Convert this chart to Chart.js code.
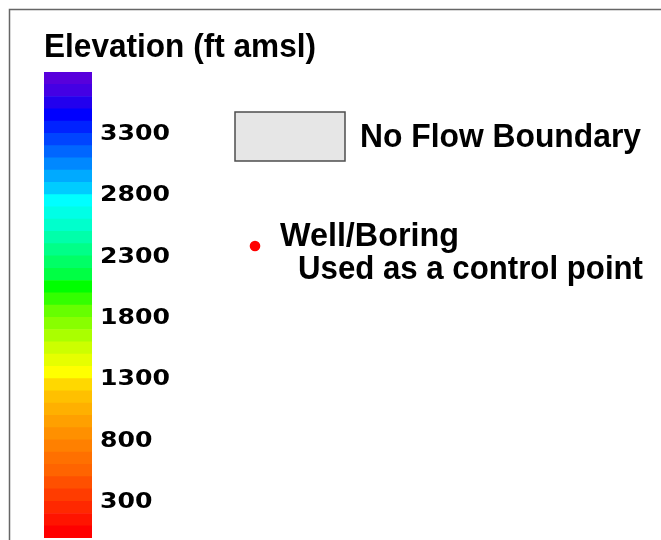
<!DOCTYPE html>
<html>
<head>
<meta charset="utf-8">
<script src="https://cdn.jsdelivr.net/npm/chart.js@4"></script>
<style>
  html, body { margin: 0; padding: 0; background: #fff; }
  #wrap { width: 661px; height: 540px; }
</style>
</head>
<body>
<div id="wrap"><canvas id="chart" width="661" height="540"></canvas></div>
<script>
const titleText = 'Elevation (ft amsl)';
const boundaryLabel = 'No Flow Boundary';
const wellLabel = ['Well/Boring', 'Used as a control point'];

// colour bands, bottom to top (ft amsl)
const bandEdges = [0, 100, 200, 300, 400, 500, 600, 700, 800, 900, 1000, 1100, 1200, 1300,
  1400, 1500, 1600, 1700, 1800, 1900, 2000, 2100, 2200, 2300, 2400, 2500, 2600, 2700,
  2800, 2900, 3000, 3100, 3200, 3300, 3400, 3500, 3600, 3700, 3800];
const bandColors = ['#ff0000', '#ff1400', '#ff2800', '#ff3c00', '#ff5000', '#ff6400', '#ff7000',
  '#ff8000', '#ff9000', '#ffa000', '#ffb000', '#ffc000', '#ffd800', '#ffff00',
  '#e6ff00', '#ccff00', '#aaff00', '#88ff00', '#66ff00', '#33ff00', '#00ff00',
  '#00ff44', '#00ff66', '#00ff88', '#00ffaa', '#00ffcc', '#00ffe6', '#00ffff',
  '#00ccff', '#00aaff', '#0088ff', '#0066ff', '#0044ff', '#0022ff', '#0000ff',
  '#2200ee', '#4400e4', '#5800dc'];
const tickValues = [300, 800, 1300, 1800, 2300, 2800, 3300];
const tickLabels = ['300', '800', '1300', '1800', '2300', '2800', '3300'];

const datasets = bandColors.map((color, i) => ({
  data: [[bandEdges[i], bandEdges[i + 1]]],
  backgroundColor: color,
  borderWidth: 0,
  barPercentage: 1,
  categoryPercentage: 1,
  grouped: false,
}));

// text in the picture is squeezed/stretched to a fixed width
function fitText(ctx, text, x, y, width, font) {
  ctx.save();
  ctx.font = font;
  const w = ctx.measureText(text).width;
  ctx.translate(x, y);
  ctx.scale(width / w, 1);
  ctx.fillText(text, 0, 0);
  ctx.restore();
}

const legendPlugin = {
  id: 'legendSheet',
  afterDraw(chart) {
    const ctx = chart.ctx;
    const yScale = chart.scales.y;
    const area = chart.chartArea;
    const font = 'bold 33px "Liberation Sans", Arial, sans-serif';

    ctx.save();
    // frame
    ctx.strokeStyle = '#666';
    ctx.lineWidth = 1.5;
    ctx.beginPath();
    ctx.moveTo(9.5, 540);
    ctx.lineTo(9.5, 9.5);
    ctx.lineTo(661, 9.5);
    ctx.stroke();

    ctx.fillStyle = '#000';
    ctx.textBaseline = 'alphabetic';
    fitText(ctx, titleText, 44, 57, 272, font);

    // tick labels from the scale
    ctx.font = 'bold 22px "DejaVu Sans", Verdana, sans-serif';
    const sx = 70 / ctx.measureText('3300').width;
    ctx.textBaseline = 'middle';
    yScale.ticks.forEach((t, i) => {
      const y = yScale.getPixelForValue(t.value);
      ctx.save();
      ctx.translate(area.right + 8, y + 1);
      ctx.scale(sx, 1);
      ctx.fillText(tickLabels[i], 0, 0);
      ctx.restore();
    });

    // no flow boundary swatch
    ctx.fillStyle = '#e6e6e6';
    ctx.fillRect(235, 112, 110, 49);
    ctx.strokeStyle = '#4d4d4d';
    ctx.lineWidth = 1.5;
    ctx.strokeRect(235, 112, 110, 49);
    ctx.fillStyle = '#000';
    ctx.textBaseline = 'alphabetic';
    fitText(ctx, boundaryLabel, 360, 147, 281, font);

    // well marker
    ctx.fillStyle = '#ff0000';
    ctx.beginPath();
    ctx.arc(255, 246, 5.3, 0, Math.PI * 2);
    ctx.fill();
    ctx.fillStyle = '#000';
    fitText(ctx, wellLabel[0], 280, 246, 179, font);
    fitText(ctx, wellLabel[1], 298, 279, 345, font);
    ctx.restore();
  },
};

new Chart(document.getElementById('chart'), {
  type: 'bar',
  data: { labels: [''], datasets: datasets },
  options: {
    responsive: false,
    animation: false,
    devicePixelRatio: 1,
    layout: { padding: { left: 44, right: 569, top: 72, bottom: 2 } },
    plugins: { legend: { display: false }, tooltip: { enabled: false } },
    scales: {
      x: { display: false },
      y: {
        display: false,
        min: 0,
        max: 3800,
        afterBuildTicks: (scale) => {
          scale.ticks = tickValues.map((v) => ({ value: v }));
        },
      },
    },
  },
  plugins: [legendPlugin],
});
</script>
</body>
</html>
